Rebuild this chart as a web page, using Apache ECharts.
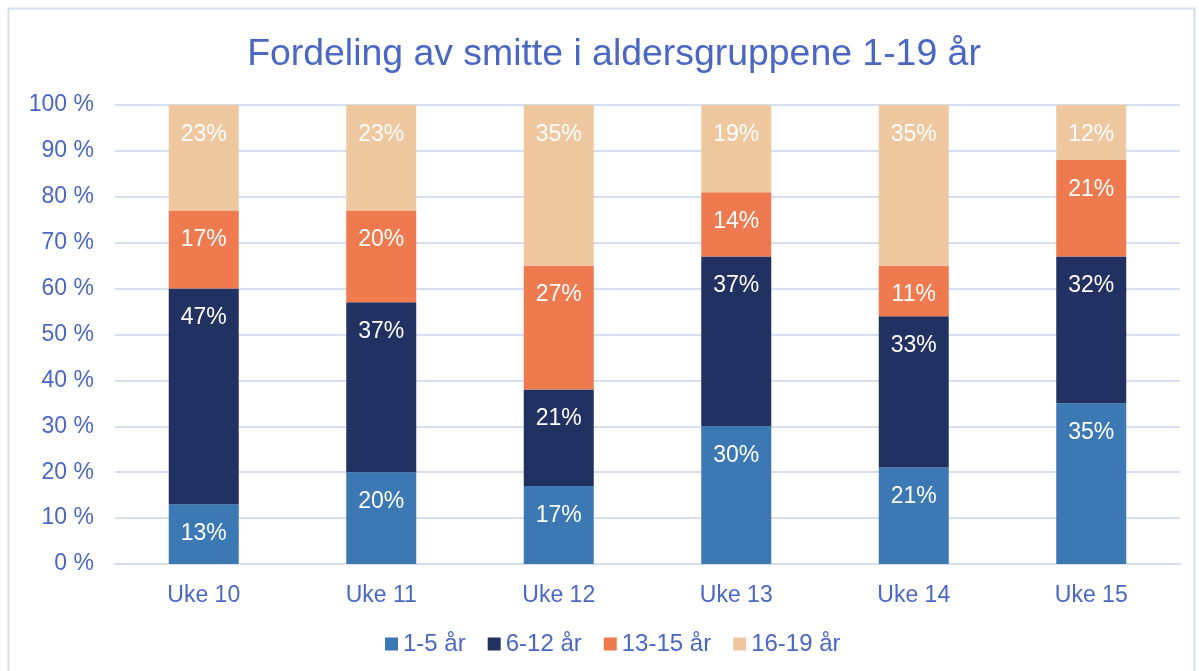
<!DOCTYPE html>
<html><head><meta charset="utf-8">
<script src="https://cdn.jsdelivr.net/npm/echarts@6/dist/echarts.min.js"></script>
<style>html,body{margin:0;padding:0;background:#fff}#c{width:1199px;height:671px}</style>
</head><body><div id="c"></div>
<script>
const categories = ['Uke 10','Uke 11','Uke 12','Uke 13','Uke 14','Uke 15'];
const age1_5 = [13,20,17,30,21,35];
const age6_12 = [47,37,21,37,33,32];
const age13_15 = [17,20,27,14,11,21];
const age16_19 = [23,23,35,19,35,12];
const seriesNames = ['1-5 år','6-12 år','13-15 år','16-19 år'];
const colors = ['#3b78b4','#213162','#ef7a4f','#efc89f'];
const txt = '#4a67c4';
const font = '"Liberation Sans", Arial, sans-serif';
const chart = echarts.init(document.getElementById('c'));
const datas = [age1_5, age6_12, age13_15, age16_19];
chart.setOption({
  animation:false,
  textStyle:{fontFamily:font},
  graphic:[{type:'rect',shape:{x:8.5,y:8.5,width:1186,height:680},style:{fill:'none',stroke:'#d6dff0',lineWidth:2}}],
  title:{text:'Fordeling av smitte i aldersgruppene 1-19 år',left:609,textAlign:'center',top:31,
    textStyle:{color:txt,fontSize:37.4,fontWeight:'normal',fontFamily:font}},
  legend:{bottom:10,left:380,itemWidth:13,itemHeight:13,itemGap:22,icon:'rect',
    textStyle:{color:txt,fontSize:24,fontFamily:font}},
  grid:{left:115,right:19,top:105,bottom:107},
  xAxis:{type:'category',data:categories,axisLine:{lineStyle:{color:'#d6dff0',width:2}},axisTick:{show:false},
    axisLabel:{color:txt,fontSize:23,margin:20,fontFamily:font}},
  yAxis:{type:'value',min:0,max:100,interval:10,
    axisLabel:{color:txt,fontSize:23,margin:21,formatter:v=>v+' %',fontFamily:font},
    splitLine:{lineStyle:{color:'#d6dff0',width:2}},axisLine:{show:false},axisTick:{show:false}},
  series: seriesNames.map((n,i)=>({name:n,type:'bar',stack:'a',barWidth:70,data:datas[i],
    itemStyle:{color:colors[i]},
    label:{show:true,position:'insideTop',distance:18,color:'#fff',fontSize:23,formatter:'{c}%',fontFamily:font}}))
});
</script></body></html>
